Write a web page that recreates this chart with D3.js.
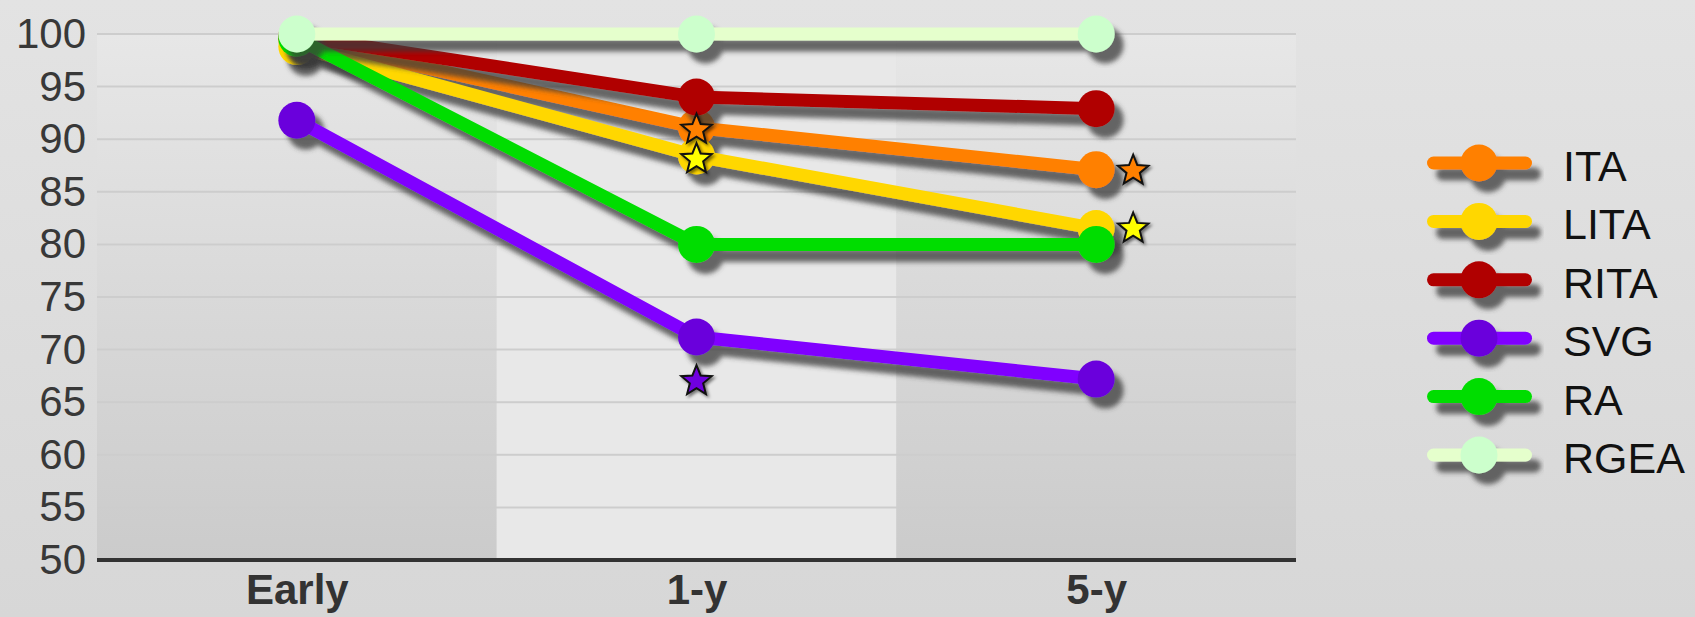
<!DOCTYPE html>
<html>
<head>
<meta charset="utf-8">
<script src="https://cdn.jsdelivr.net/npm/d3@7"></script>
<style>
  html, body { margin: 0; padding: 0; overflow: hidden; }
  svg { display: block; font-family: "Liberation Sans", Arial, sans-serif; }
</style>
</head>
<body>
<svg id="chart" width="1695" height="617"></svg>
<script>
// categories on the x axis
const categories = ["Early", "1-y", "5-y"];
const seriesNames = ["ITA", "LITA", "RITA", "SVG", "RA", "RGEA"];

// values (percent)
const itaValues = [99.5, 91.1, 87.1];
const litaValues = [98.8, 88.4, 81.5];
const ritaValues = [99.8, 94.0, 92.9];
const svgValues = [91.8, 71.2, 67.2];
const raValues = [99.6, 80.0, 80.0];
const rgeaValues = [100, 100, 100];

const yTicks = [50, 55, 60, 65, 70, 75, 80, 85, 90, 95, 100];

// star markers (significance)
const starSeries = ["ITA", "LITA", "SVG", "ITA", "LITA"];
const starCategory = ["1-y", "1-y", "1-y", "5-y", "5-y"];
const starValues = [91.0, 88.2, 67.1, 87.1, 81.6];

const lineColors = ["#ff8000", "#ffd700", "#b00000", "#8000ff", "#00dd00", "#e5ffcc"];
const dotColors = ["#ff8000", "#ffd700", "#b00000", "#6a00dc", "#00dd00", "#ccffcc"];
const starColors = { ITA: "#ff8000", LITA: "#ffff00", SVG: "#7000e0" };

const allValues = [itaValues, litaValues, ritaValues, svgValues, raValues, rgeaValues];
const series = seriesNames.map((name, i) => ({
  name,
  line: lineColors[i],
  dot: dotColors[i],
  values: categories.map((c, j) => ({ cat: c, value: allValues[i][j] }))
}));

const svg = d3.select("#chart");
const W = 1695, H = 617;
const plot = { left: 97, right: 1296, top: 34, bottom: 560 };

const x = d3.scalePoint().domain(categories).range([plot.left, plot.right]).padding(0.5);
const band = d3.scaleBand().domain(categories).range([plot.left, plot.right]);
const y = d3.scaleLinear().domain([50, 100]).range([plot.bottom, plot.top]);

const defs = svg.append("defs");
const bgGrad = defs.append("linearGradient").attr("id", "bg").attr("x1", 0).attr("x2", 0).attr("y1", 0).attr("y2", 1);
bgGrad.append("stop").attr("offset", "0%").attr("stop-color", "#e3e3e3");
bgGrad.append("stop").attr("offset", "100%").attr("stop-color", "#d7d7d7");
const bandGrad = defs.append("linearGradient").attr("id", "band").attr("x1", 0).attr("x2", 0).attr("y1", 0).attr("y2", 1);
bandGrad.append("stop").attr("offset", "0%").attr("stop-color", "#e7e7e7");
bandGrad.append("stop").attr("offset", "100%").attr("stop-color", "#cbcbcb");

const shadow = defs.append("filter").attr("id", "shadow")
  .attr("x", "-20%").attr("y", "-20%").attr("width", "140%").attr("height", "160%");
shadow.append("feDropShadow")
  .attr("dx", 9).attr("dy", 11).attr("stdDeviation", 2.5)
  .attr("flood-color", "#3a3a3a").attr("flood-opacity", 0.75);

svg.append("rect").attr("width", W).attr("height", H).attr("fill", "url(#bg)");

// alternating column bands
svg.append("g").selectAll("rect")
  .data(categories)
  .join("rect")
  .attr("x", d => band(d))
  .attr("y", plot.top)
  .attr("width", band.bandwidth())
  .attr("height", plot.bottom - plot.top)
  .attr("fill", (d, i) => i % 2 ? "#e8e8e8" : "url(#band)");

// gridlines
svg.append("g").selectAll("line")
  .data(yTicks.filter(t => t > 50))
  .join("line")
  .attr("x1", plot.left).attr("x2", plot.right)
  .attr("y1", d => y(d)).attr("y2", d => y(d))
  .attr("stroke", "#cdcdcd").attr("stroke-width", 2);

// y axis labels
const yAxis = svg.append("g")
  .attr("transform", `translate(${plot.left - 11},0)`)
  .call(d3.axisLeft(y).tickValues(yTicks).tickSize(0).tickPadding(0));
yAxis.select(".domain").remove();
yAxis.selectAll("text")
  .attr("font-size", 42)
  .attr("fill", "#383838")
  .attr("font-family", "'Liberation Sans', Arial, sans-serif");

// x axis
const xAxis = svg.append("g")
  .attr("transform", `translate(0,${plot.bottom})`)
  .call(d3.axisBottom(x).tickSize(0).tickPadding(14));
xAxis.select(".domain").attr("stroke", "#333").attr("stroke-width", 4)
  .attr("d", `M${plot.left},0H${plot.right}`);
xAxis.selectAll("text")
  .attr("font-size", 42)
  .attr("font-weight", "bold")
  .attr("fill", "#333")
  .attr("font-family", "'Liberation Sans', Arial, sans-serif");

// series lines and dots
const line = d3.line().x(d => x(d.cat)).y(d => y(d.value));
const groups = svg.append("g").selectAll("g")
  .data(series)
  .join("g")
  .attr("filter", "url(#shadow)");
groups.append("path")
  .attr("d", d => line(d.values))
  .attr("fill", "none")
  .attr("stroke", d => d.line)
  .attr("stroke-width", 13)
  .attr("stroke-linejoin", "round");
groups.selectAll("circle")
  .data(d => d.values.map(v => ({ ...v, color: d.dot })))
  .join("circle")
  .attr("cx", d => x(d.cat))
  .attr("cy", d => y(d.value))
  .attr("r", 18.5)
  .attr("fill", d => d.color);

// stars
const starPath = (R, r) => {
  const pts = [];
  for (let i = 0; i < 10; i++) {
    const a = -Math.PI / 2 + i * Math.PI / 5;
    const rad = i % 2 ? r : R;
    pts.push([rad * Math.cos(a), rad * Math.sin(a)]);
  }
  return "M" + pts.map(p => p.join(",")).join("L") + "Z";
};
const lastCat = categories[categories.length - 1];
svg.append("g").selectAll("path")
  .data(starValues.map((v, i) => ({ series: starSeries[i], cat: starCategory[i], value: v })))
  .join("path")
  .attr("d", starPath(16, 7))
  .attr("transform", d => `translate(${x(d.cat) + (d.cat === lastCat ? 37 : 0)},${y(d.value) + 1})`)
  .attr("fill", d => starColors[d.series])
  .attr("stroke", "#111")
  .attr("stroke-width", 2)
  .attr("stroke-linejoin", "miter")
  .style("filter", "drop-shadow(2px 2px 1.5px rgba(0,0,0,0.5))");

// legend
const legend = svg.append("g").selectAll("g")
  .data(series)
  .join("g")
  .attr("transform", (d, i) => `translate(1427,${163 + i * 58.4})`);
const key = legend.append("g").attr("filter", "url(#shadow)");
key.append("line")
  .attr("x1", 6.5).attr("x2", 98.5)
  .attr("stroke", d => d.line)
  .attr("stroke-width", 13)
  .attr("stroke-linecap", "round");
key.append("circle")
  .attr("cx", 52).attr("r", 18.5)
  .attr("fill", d => d.dot);
legend.append("text")
  .attr("x", 136)
  .attr("y", 18)
  .attr("font-size", 43)
  .attr("fill", "#111")
  .text(d => d.name);
</script>
</body>
</html>
